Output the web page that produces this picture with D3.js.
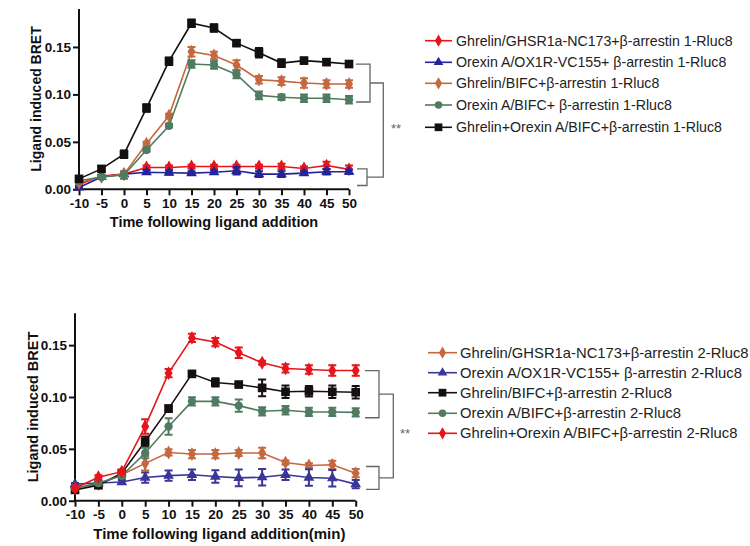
<!DOCTYPE html>
<html><head><meta charset="utf-8">
<script src="https://cdn.jsdelivr.net/npm/d3@7"></script>
<style>body{margin:0;background:#fff}svg{display:block}text{font-family:Arial,"Liberation Sans",sans-serif}</style>
</head><body><svg id="c" width="750" height="546"></svg>
<script>
// ---------- data ----------
const times = [-10,-5,0,5,10,15,20,25,30,35,40,45,50];
const yTicks = [0, 0.05, 0.10, 0.15];
const xTicks = [-10,-5,0,5,10,15,20,25,30,35,40,45,50];

// Panel A (beta-arrestin 1)
const aNames = ["Ghrelin/GHSR1a-NC173+β-arrestin 1-Rluc8","Orexin A/OX1R-VC155+ β-arrestin 1-Rluc8","Ghrelin/BIFC+β-arrestin 1-Rluc8","Orexin A/BIFC+ β-arrestin 1-Rluc8","Ghrelin+Orexin A/BIFC+β-arrestin 1-Rluc8"];
const aColors = ["#e8141c","#23239a","#c4683f","#4f7b60","#151010"];
const aShapes = ["diamond","triangle","diamond","circle","square"];
const aRed   = [0.005,0.014,0.016,0.023,0.023,0.024,0.024,0.024,0.024,0.024,0.022,0.025,0.021];
const aRedE  = [0.001,0.001,0.001,0.002,0.002,0.002,0.002,0.002,0.002,0.003,0.002,0.004,0.004];
const aBlue  = [0.002,0.013,0.016,0.018,0.0175,0.017,0.018,0.0195,0.016,0.016,0.017,0.0185,0.0185];
const aBlueE = [0.001,0.001,0.001,0.002,0.002,0.002,0.002,0.004,0.003,0.003,0.002,0.003,0.002];
const aOrg   = [0.007,0.013,0.016,0.048,0.0775,0.145,0.141,0.131,0.1155,0.114,0.112,0.111,0.111];
const aOrgE  = [0.001,0.002,0.002,0.002,0.002,0.005,0.004,0.005,0.004,0.004,0.005,0.004,0.004];
const aGrn   = [0.009,0.013,0.015,0.0415,0.067,0.132,0.131,0.121,0.099,0.097,0.096,0.096,0.0944];
const aGrnE  = [0.001,0.002,0.004,0.002,0.002,0.004,0.004,0.004,0.004,0.003,0.004,0.004,0.004];
const aBlk   = [0.011,0.0215,0.037,0.0856,0.135,0.175,0.170,0.154,0.144,0.133,0.1356,0.134,0.132];
const aBlkE  = [0.003,0.003,0.004,0.004,0.004,0.004,0.004,0.002,0.005,0.004,0.003,0.003,0.002];

// Panel B (beta-arrestin 2)
const bNames = ["Ghrelin/GHSR1a-NC173+β-arrestin 2-Rluc8","Orexin A/OX1R-VC155+ β-arrestin 2-Rluc8","Ghrelin/BIFC+β-arrestin 2-Rluc8","Orexin A/BIFC+β-arrestin 2-Rluc8","Ghrelin+Orexin A/BIFC+β-arrestin 2-Rluc8"];
const bColors = ["#c4683f","#3a3598","#151010","#4f7b60","#e8141c"];
const bShapes = ["diamond","triangle","square","circle","diamond"];
const bOrg   = [0.012,0.016,0.025,0.036,0.0465,0.045,0.045,0.046,0.046,0.0368,0.034,0.0346,0.0265];
const bOrgE  = [0.001,0.002,0.002,0.007,0.003,0.004,0.004,0.003,0.005,0.002,0.002,0.004,0.004];
const bBlue  = [0.016,0.017,0.018,0.0223,0.0242,0.025,0.0233,0.022,0.0226,0.025,0.0223,0.0217,0.016];
const bBlueE = [0.001,0.002,0.002,0.005,0.005,0.005,0.006,0.008,0.008,0.005,0.008,0.008,0.004];
const bBlk   = [0.0104,0.015,0.0265,0.057,0.0888,0.1223,0.114,0.112,0.1088,0.105,0.1055,0.105,0.1046];
const bBlkE  = [0.002,0.003,0.003,0.005,0.003,0.002,0.004,0.002,0.008,0.006,0.005,0.006,0.006];
const bGrn   = [0.012,0.017,0.024,0.046,0.0716,0.0958,0.0958,0.0917,0.0862,0.0872,0.0856,0.0856,0.0852];
const bGrnE  = [0.001,0.002,0.002,0.005,0.008,0.004,0.004,0.006,0.004,0.004,0.004,0.004,0.004];
const bRed   = [0.012,0.0226,0.028,0.0716,0.123,0.157,0.153,0.1427,0.133,0.1275,0.1265,0.1255,0.1255];
const bRedE  = [0.001,0.002,0.002,0.007,0.004,0.004,0.004,0.005,0.002,0.004,0.004,0.005,0.005];

// bracket spans (data units): [upper top, upper bottom, lower top, lower bottom]
const aBrackets = [0.132, 0.092, 0.0215, 0.004];
const bBrackets = [0.1255, 0.080, 0.033, 0.011];

const panels = [
  {plot:{x0:79,x1:349,y0:189.3,yTop:9}, yMax:0.19,
   series:[[aRed,aRedE],[aBlue,aBlueE],[aOrg,aOrgE],[aGrn,aGrnE],[aBlk,aBlkE]],
   names:aNames, colors:aColors, shapes:aShapes, brackets:aBrackets,
   xTitle:"Time following ligand addition", xtSize:14.5, ytSize:14, ytX:36, ytY:99,
   br:{xl:356, xm:370, xm2:367, xb:383.3, star:[396,133]},
   legend:{lx0:425, lx1:452, tx:456, fs:14.2, ys:[40.7,62.3,83.3,105,127.3]}},
  {plot:{x0:75,x1:355.7,y0:500.7,yTop:313.3}, yMax:0.1807,
   series:[[bOrg,bOrgE],[bBlue,bBlueE],[bBlk,bBlkE],[bGrn,bGrnE],[bRed,bRedE]],
   names:bNames, colors:bColors, shapes:bShapes, brackets:bBrackets,
   xTitle:"Time following ligand addition(min)", xtSize:15, ytSize:14.5, ytX:33, ytY:407,
   br:{xl:365, xm:379, xm2:379, xb:393.3, star:[405,438]},
   legend:{lx0:428, lx1:457, tx:460, fs:14.8, ys:[352.7,372.7,392.7,413.3,433.3]}}
];

const svg = d3.select("#c");
const symMap = {diamond:d3.symbolDiamond, triangle:d3.symbolTriangle, circle:d3.symbolCircle, square:d3.symbolSquare};
const symSize = {diamond:55, triangle:50, circle:55, square:75};

panels.forEach(p => {
  const x = d3.scaleLinear().domain([-10,50]).range([p.plot.x0, p.plot.x1]);
  const y = d3.scaleLinear().domain([0,p.yMax]).range([p.plot.y0, p.plot.yTop]);
  const g = svg.append("g");

  // axes
  const xa = g.append("g").attr("transform",`translate(0,${p.plot.y0})`)
    .call(d3.axisBottom(x).tickValues(xTicks).tickSize(6).tickPadding(3).tickFormat(d => String(d)));
  const ya = g.append("g").attr("transform",`translate(${p.plot.x0},0)`)
    .call(d3.axisLeft(y).tickValues(yTicks).tickSize(6).tickPadding(2).tickFormat(d3.format(".2f")));
  [xa,ya].forEach(a=>{
    a.selectAll("path,line").attr("stroke","#111").attr("stroke-width",2);
    a.selectAll("text").attr("font-size",13.5).attr("font-weight","bold").attr("fill","#111");
  });
  xa.select("path").attr("d",`M${p.plot.x0},0H${p.plot.x1}`);
  ya.select("path").attr("d",`M0,${p.plot.y0}V${p.plot.yTop}`);

  g.append("text").attr("x",(p.plot.x0+p.plot.x1)/2+(p.xtSize>14.5?4:0)).attr("y",p.plot.y0+38)
    .attr("text-anchor","middle").attr("font-size",p.xtSize).attr("font-weight","bold").attr("fill","#111").text(p.xTitle);
  g.append("text").attr("transform",`translate(${p.ytX+5},${p.ytY}) rotate(-90)`)
    .attr("text-anchor","middle").attr("font-size",p.ytSize).attr("font-weight","bold").attr("fill","#111").text("Ligand induced BRET");

  // series
  const line = d3.line().x((d,i)=>x(times[i])).y(d=>y(d));
  p.series.forEach(([vals,errs],si)=>{
    const c = p.colors[si];
    const sg = g.append("g");
    sg.append("path").datum(vals).attr("d",line).attr("fill","none").attr("stroke",c).attr("stroke-width",1.6);
    vals.forEach((v,i)=>{
      const cx = x(times[i]), e = errs[i];
      const yt = y(v+e), yb = y(v-e);
      sg.append("path").attr("d",`M${cx},${yt}V${yb}M${cx-4},${yt}H${cx+4}M${cx-4},${yb}H${cx+4}`)
        .attr("stroke",c).attr("stroke-width",2).attr("fill","none");
    });
    sg.selectAll("path.m").data(vals).enter().append("path").attr("class","m")
      .attr("transform",(d,i)=>`translate(${x(times[i])},${y(d)})`)
      .attr("d",d3.symbol().type(symMap[p.shapes[si]]).size(symSize[p.shapes[si]]))
      .attr("fill",c);
  });

  // brackets
  const b = p.brackets, br = p.br;
  const u0=y(b[0]), u1=y(b[1]), l0=y(b[2]), l1=y(b[3]);
  const um=(u0+u1)/2, lm=(l0+l1)/2;
  g.append("path").attr("fill","none").attr("stroke","#666").attr("stroke-width",1.3)
    .attr("d",`M${br.xl},${u0}H${br.xm}V${u1}H${br.xl}M${br.xm},${um}H${br.xb}V${lm}H${br.xm2}M${br.xl+1},${l0}H${br.xm2}V${l1}H${br.xl+1}`);
  g.append("text").attr("x",br.star[0]).attr("y",br.star[1]).attr("text-anchor","middle")
    .attr("font-size",13).attr("fill","#666").text("**");

  // legend
  p.names.forEach((n,i)=>{
    const ly = p.legend.ys[i], c = p.colors[i];
    g.append("line").attr("x1",p.legend.lx0).attr("x2",p.legend.lx1).attr("y1",ly).attr("y2",ly)
      .attr("stroke",c).attr("stroke-width",1.6);
    g.append("path").attr("transform",`translate(${(p.legend.lx0+p.legend.lx1)/2},${ly})`)
      .attr("d",d3.symbol().type(symMap[p.shapes[i]]).size(symSize[p.shapes[i]]*0.8)).attr("fill",c);
    g.append("text").attr("x",p.legend.tx).attr("y",ly+5).attr("font-size",p.legend.fs).attr("fill","#222").text(n);
  });
});
</script></body></html>
